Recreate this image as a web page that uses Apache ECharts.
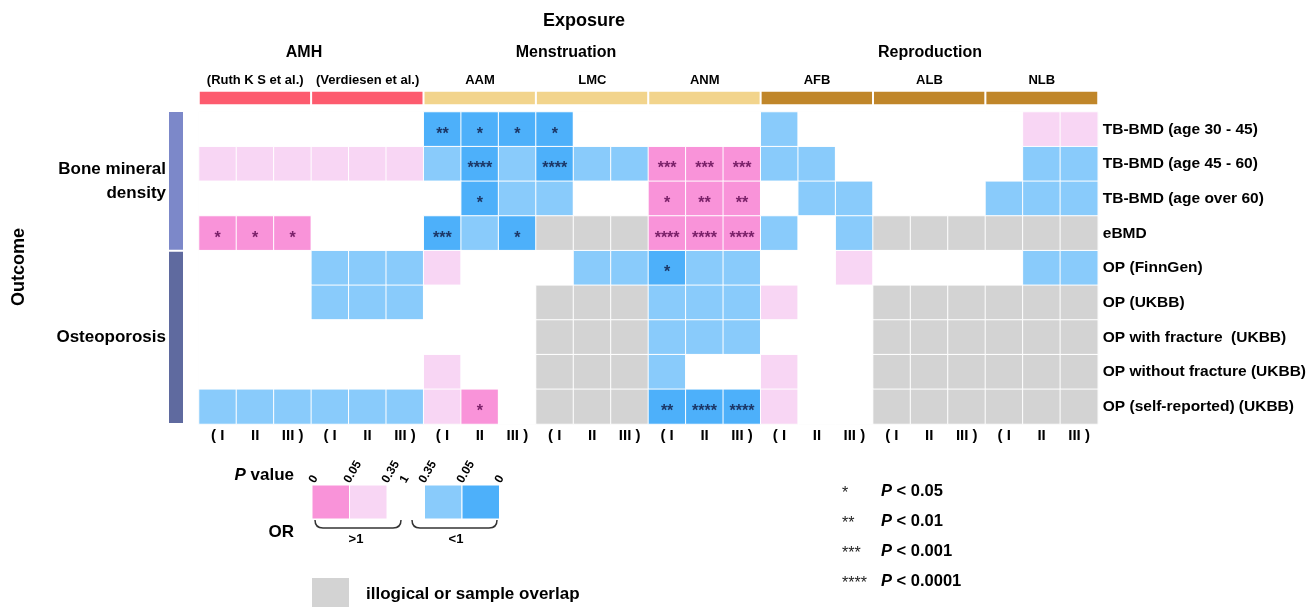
<!DOCTYPE html>
<html><head><meta charset="utf-8">
<script src="https://cdn.jsdelivr.net/npm/echarts@6/dist/echarts.min.js"></script>
<style>html,body{margin:0;padding:0;background:#fff}#c{width:1309px;height:607px}</style>
</head><body><div id="c"></div>
<script>
// ---------- data ----------
const outcomes = ['TB-BMD (age 30 - 45)','TB-BMD (age 45 - 60)','TB-BMD (age over 60)','eBMD','OP (FinnGen)','OP (UKBB)','OP with fracture  (UKBB)','OP without fracture (UKBB)','OP (self-reported) (UKBB)'];
const outcomeGroups = ['Bone mineral\ndensity','Osteoporosis'];
const outcomeGroupRows = [[0,3],[4,8]];
const exposures = ['(Ruth K S et al.)','(Verdiesen et al.)','AAM','LMC','ANM','AFB','ALB','NLB'];
const exposureGroupOf = [0,0,1,1,1,2,2,2];
const exposureGroups = ['AMH','Menstruation','Reproduction'];
const methods = ['( I','II','III )'];
// P = P<0.05 & OR>1, p = 0.05-0.35 & OR>1, b = 0.05-0.35 & OR<1, B = P<0.05 & OR<1, g = illogical/overlap, . = P>0.35
const cellClass = [
 ['.','.','.','.','.','.','B','B','B','B','.','.','.','.','.','b','.','.','.','.','.','.','p','p'],
 ['p','p','p','p','p','p','b','B','b','B','b','b','P','P','P','b','b','.','.','.','.','.','b','b'],
 ['.','.','.','.','.','.','.','B','b','b','.','.','P','P','P','.','b','b','.','.','.','b','b','b'],
 ['P','P','P','.','.','.','B','b','B','g','g','g','P','P','P','b','.','b','g','g','g','g','g','g'],
 ['.','.','.','b','b','b','p','.','.','.','b','b','B','b','b','.','.','p','.','.','.','.','b','b'],
 ['.','.','.','b','b','b','.','.','.','g','g','g','b','b','b','p','.','.','g','g','g','g','g','g'],
 ['.','.','.','.','.','.','.','.','.','g','g','g','b','b','b','.','.','.','g','g','g','g','g','g'],
 ['.','.','.','.','.','.','p','.','.','g','g','g','b','.','.','p','.','.','g','g','g','g','g','g'],
 ['b','b','b','b','b','b','p','P','.','g','g','g','B','B','B','p','.','.','g','g','g','g','g','g']
];
const starCount = [
 [0,0,0,0,0,0,2,1,1,1,0,0,0,0,0,0,0,0,0,0,0,0,0,0],
 [0,0,0,0,0,0,0,4,0,4,0,0,3,3,3,0,0,0,0,0,0,0,0,0],
 [0,0,0,0,0,0,0,1,0,0,0,0,1,2,2,0,0,0,0,0,0,0,0,0],
 [1,1,1,0,0,0,3,0,1,0,0,0,4,4,4,0,0,0,0,0,0,0,0,0],
 [0,0,0,0,0,0,0,0,0,0,0,0,1,0,0,0,0,0,0,0,0,0,0,0],
 [0,0,0,0,0,0,0,0,0,0,0,0,0,0,0,0,0,0,0,0,0,0,0,0],
 [0,0,0,0,0,0,0,0,0,0,0,0,0,0,0,0,0,0,0,0,0,0,0,0],
 [0,0,0,0,0,0,0,0,0,0,0,0,0,0,0,0,0,0,0,0,0,0,0,0],
 [0,0,0,0,0,0,0,1,0,0,0,0,2,4,4,0,0,0,0,0,0,0,0,0]
];
const pTicks = ['0','0.05','0.35','1','0.35','0.05','0'];
const starLegend = [['*','0.05'],['**','0.01'],['***','0.001'],['****','0.0001']];

// ---------- styles ----------
const FONT = "'Liberation Sans', Arial, Helvetica, sans-serif";
const classCodes = ['P','p','.','b','B','g'];
const classColor = {P:'#F993D9', p:'#F8D6F4', '.':'#FFFFFF', b:'#89CBFB', B:'#4DB0FA', g:'#D3D3D3'};
const starColor = {P:'#7A2169', p:'#7A2169', b:'#1C3766', B:'#1C3766', g:'#333', '.':'#333'};
const groupColor = ['#FD5B6E','#F2D48C','#C0862A'];
const outcomeBarColor = ['#7C88C9','#5F6A9F'];

const xIds = [];
exposures.forEach(e => methods.forEach(m => xIds.push(e + '|' + m)));

const cells = [];
cellClass.forEach((row, r) => row.forEach((cls, c) => {
  const n = starCount[r][c];
  cells.push({
    value: [c, r, classCodes.indexOf(cls)],
    itemStyle: {color: classColor[cls]},
    label: {show: n > 0, formatter: '*'.repeat(n), color: starColor[cls]}
  });
}));
const headerCells = exposures.map((e, i) => ({
  value: [i, 0, exposureGroupOf[i]],
  itemStyle: {color: groupColor[exposureGroupOf[i]]}
}));

const chart = echarts.init(document.getElementById('c'), null, {renderer: 'canvas'});
chart.setOption({
  animation: false,
  textStyle: {fontFamily: FONT},
  grid: [
    {left: 199, width: 899, top: 112, height: 312, show: true, borderColor: '#f0f0f0', borderWidth: 1},
    {left: 199, width: 899, top: 91, height: 14}
  ],
  xAxis: [
    {type: 'category', gridIndex: 0, data: xIds, position: 'bottom',
      axisLine: {show: false}, axisTick: {show: false}, splitLine: {show: false},
      axisLabel: {interval: 0, margin: 4, fontSize: 15, fontWeight: 'bold', color: '#000', fontFamily: FONT,
        formatter: (v, i) => methods[i % 3]}},
    {type: 'category', gridIndex: 1, data: exposures, position: 'top',
      axisLine: {show: false}, axisTick: {show: false}, splitLine: {show: false},
      axisLabel: {interval: 0, margin: 4, fontSize: 13, fontWeight: 'bold', color: '#000', fontFamily: FONT}}
  ],
  yAxis: [
    {type: 'category', gridIndex: 0, data: outcomes, inverse: true, position: 'right',
      axisLine: {show: false}, axisTick: {show: false}, splitLine: {show: false},
      axisLabel: {interval: 0, margin: 5, fontSize: 15.5, fontWeight: 'bold', color: '#000', fontFamily: FONT}},
    {type: 'category', gridIndex: 1, data: ['bar'], show: false}
  ],
  series: [
    {type: 'heatmap', xAxisIndex: 0, yAxisIndex: 0, data: cells,
      itemStyle: {borderColor: '#fff', borderWidth: 1},
      label: {show: true, fontSize: 16, fontWeight: 'bold', offset: [0, 5], fontFamily: FONT},
      emphasis: {disabled: true}},
    {type: 'heatmap', xAxisIndex: 1, yAxisIndex: 1, data: headerCells,
      itemStyle: {borderColor: '#fff', borderWidth: 2},
      emphasis: {disabled: true}}
  ]
});

// ---------- annotations (positions derived from axes where tied to data) ----------
const a = chart.convertToPixel({xAxisIndex: 0, yAxisIndex: 0}, [0, 0]);
const b = chart.convertToPixel({xAxisIndex: 0, yAxisIndex: 0}, [1, 1]);
const ch = b[1] - a[1];
const rowTop = r => a[1] + (r - 0.5) * ch;

const g = [];
const T = (x, y, text, o) => g.push(Object.assign({type: 'text', x: x, y: y, silent: true,
  style: Object.assign({text: text, fontFamily: FONT, fontSize: 17, fontWeight: 'bold', fill: '#000',
    align: 'center', verticalAlign: 'middle'}, (o && o.style) || {})}, o && o.rot != null ? {rotation: o.rot} : {}));

T(584, 21, 'Exposure', {style: {fontSize: 18}});
const groupX = [304, 566, 930];
exposureGroups.forEach((n, i) => T(groupX[i], 53, n, {style: {fontSize: 16}}));
T(19, 267, 'Outcome', {style: {fontSize: 18}, rot: Math.PI / 2});

outcomeGroups.forEach((n, i) => {
  const y0 = rowTop(outcomeGroupRows[i][0]), y1 = rowTop(outcomeGroupRows[i][1] + 1);
  g.push({type: 'rect', silent: true, shape: {x: 169, y: y0 + (i ? 1 : 0), width: 14, height: y1 - y0 - 1 - (i ? 1 : 0)},
    style: {fill: outcomeBarColor[i]}});
  T(166, (y0 + y1) / 2, n, {style: {align: 'right', lineHeight: 24}});
});

// P value legend
const italicP = {i: {fontStyle: 'italic', fontSize: 17, fontWeight: 'bold', fontFamily: FONT}};
T(294, 475, '{i|P} value', {style: {align: 'right', rich: italicP}});
T(294, 532, 'OR', {style: {align: 'right'}});
const swatch = ['P', 'p', '.', 'b', 'B'];
swatch.forEach((c, i) => {
  if (c === '.') return;
  g.push({type: 'rect', silent: true, shape: {x: 312 + i * 37.5, y: 485, width: 37.5, height: 34},
    style: {fill: classColor[c], stroke: '#fff', lineWidth: 1}});
});
const tickX = [314, 349, 387, 405, 424, 462, 500];
pTicks.forEach((t, i) => T(tickX[i] - 2, 482, t, {rot: Math.PI / 3, style: {align: 'left', verticalAlign: 'middle', fontSize: 12}}));
function brace(x1, x2, y1, y2) {
  const st = {stroke: '#333', lineWidth: 1.5, fill: 'none'};
  g.push({type: 'bezierCurve', silent: true, shape: {x1: x1, y1: y1, x2: x1 + 8, y2: y2, cpx1: x1, cpy1: y2}, style: st});
  g.push({type: 'line', silent: true, shape: {x1: x1 + 8, y1: y2, x2: x2 - 8, y2: y2}, style: st});
  g.push({type: 'bezierCurve', silent: true, shape: {x1: x2 - 8, y1: y2, x2: x2, y2: y1, cpx1: x2, cpy1: y2}, style: st});
}
brace(315, 401, 520, 528);
brace(412, 497, 520, 528);
T(356, 539, '>1', {style: {fontSize: 13}});
T(456, 539, '<1', {style: {fontSize: 13}});
g.push({type: 'rect', silent: true, shape: {x: 312, y: 578, width: 37, height: 30}, style: {fill: classColor.g}});
T(366, 594, 'illogical or sample overlap', {style: {align: 'left', fontSize: 17}});

// star legend
starLegend.forEach((s, i) => {
  const y = 491 + i * 30;
  T(842, y + 3, s[0], {style: {align: 'left', fontSize: 16, fontWeight: 'normal', fill: '#222'}});
  T(881, y, '{i|P} < ' + s[1], {style: {align: 'left', fontSize: 16.5, rich: {i: {fontStyle: 'italic', fontSize: 16.5, fontWeight: 'bold', fontFamily: FONT}}}});
});

chart.setOption({graphic: g});
</script>
</body></html>
